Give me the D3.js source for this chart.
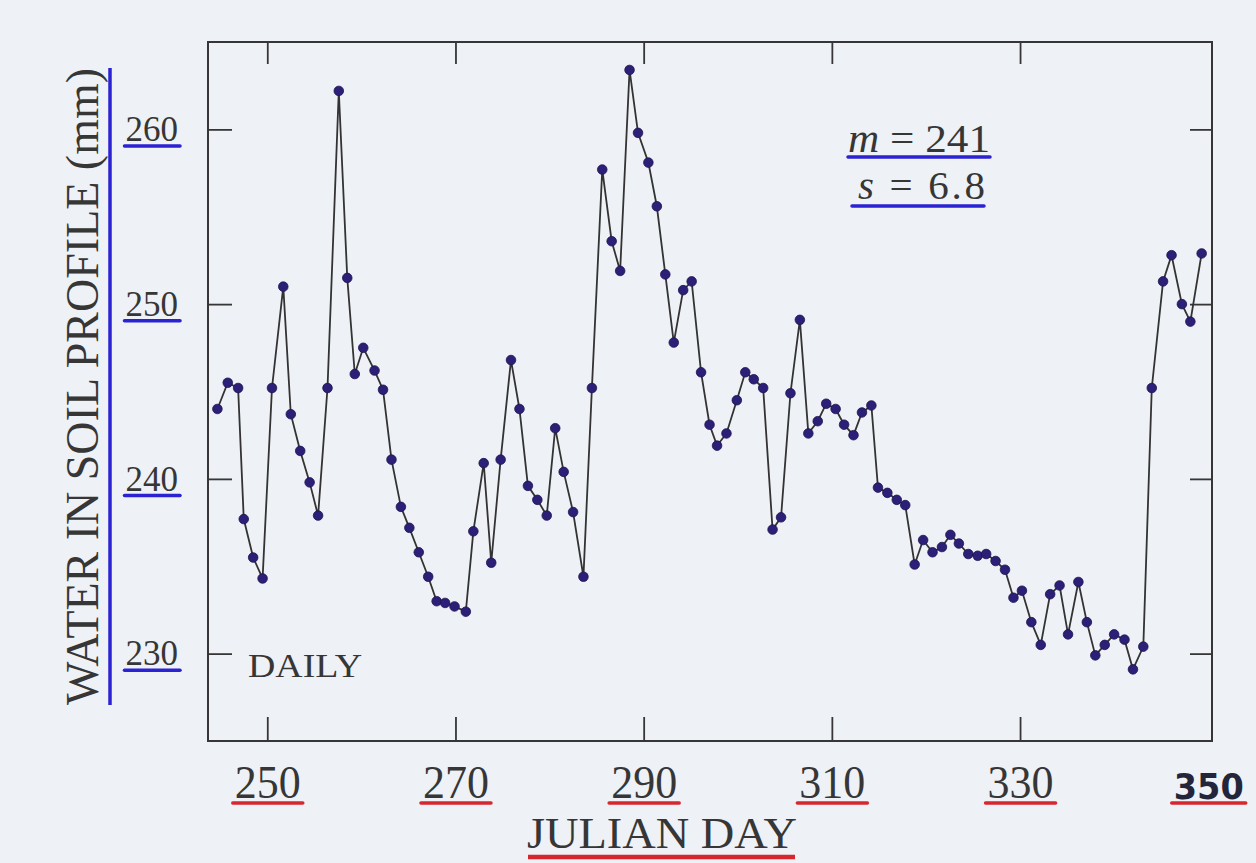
<!DOCTYPE html>
<html>
<head>
<meta charset="utf-8">
<script src="https://cdn.jsdelivr.net/npm/d3@7/dist/d3.min.js"></script>
<style>
  html, body { margin: 0; padding: 0; background: #eef1f5; }
  svg { display: block; }
</style>
</head>
<body>
<svg id="chart" width="1256" height="863"></svg>
<script>
// Julian day of each daily reading
const days = [
  244.7, 245.8, 246.9, 247.5, 248.5, 249.5, 250.5, 251.7, 252.5, 253.5,
  254.5, 255.4, 256.4, 257.6, 258.5, 259.3, 260.2, 261.4, 262.3, 263.2,
  264.2, 265.1, 266.1, 267.1, 268.0, 268.9, 269.9, 271.1, 271.9, 273.0,
  273.8, 274.8, 275.9, 276.8, 277.7, 278.7, 279.7, 280.6, 281.5, 282.5,
  283.6, 284.5, 285.6, 286.6, 287.5, 288.5, 289.4, 290.5, 291.4, 292.3,
  293.2, 294.2, 295.1, 296.1, 297.0, 297.8, 298.8, 299.9, 300.8, 301.7,
  302.7, 303.7, 304.6, 305.6, 306.6, 307.5, 308.5, 309.4, 310.4, 311.3,
  312.3, 313.2, 314.2, 314.9, 315.9, 316.9, 317.8, 318.8, 319.7, 320.7,
  321.7, 322.6, 323.5, 324.5, 325.5, 326.4, 327.4, 328.4, 329.3, 330.2,
  331.2, 332.2, 333.2, 334.2, 335.1, 336.2, 337.1, 338.0, 339.0, 340.0,
  341.1, 342.0, 343.1, 344.0, 345.2, 346.1, 347.2, 348.1, 349.3
];
// Water in soil profile (mm)
const water = [
  244.0, 245.5, 245.2, 237.7, 235.5, 234.3, 245.2, 251.0, 243.7, 241.6,
  239.8, 237.9, 245.2, 262.2, 251.5, 246.0, 247.5, 246.2, 245.1, 241.1,
  238.4, 237.2, 235.8, 234.4, 233.0, 232.9, 232.7, 232.4, 237.0, 240.9,
  235.2, 241.1, 246.8, 244.0, 239.6, 238.8, 237.9, 242.9, 240.4, 238.1,
  234.4, 245.2, 257.7, 253.6, 251.9, 263.4, 259.8, 258.1, 255.6, 251.7,
  247.8, 250.8, 251.3, 246.1, 243.1, 241.9, 242.6, 244.5, 246.1, 245.7,
  245.2, 237.1, 237.8, 244.9, 249.1, 242.6, 243.3, 244.3, 244.0, 243.1,
  242.5, 243.8, 244.2, 239.5, 239.2, 238.8, 238.5, 235.1, 236.5, 235.8,
  236.1, 236.8, 236.3, 235.7, 235.6, 235.7, 235.3, 234.8, 233.2, 233.6,
  231.8, 230.5, 233.4, 233.9, 231.1, 234.1, 231.8, 229.9, 230.5, 231.1,
  230.8, 229.1, 230.4, 245.2, 251.3, 252.8, 250.0, 249.0, 252.9
];
const xTicks = [250, 270, 290, 310, 330, 350];
const yTicks = [230, 240, 250, 260];
const xTitle = "JULIAN DAY";
const yTitle = "WATER IN SOIL PROFILE (mm)";
const noteLabel = "DAILY";
const meanValue = "241";
const sdValue = "6.8";

const svg = d3.select("#chart");
const pL = 208, pR = 1212, pT = 42, pB = 741;
const x = d3.scaleLinear().domain([243.7, 350.4]).range([pL, pR]);
const y = d3.scaleLinear().domain([225, 265]).range([pB, pT]);

const ink = "#363636";
const serif = "'Liberation Serif', 'DejaVu Serif', serif";
const blue = "#2b22d4";
const red = "#d8262e";

// frame
svg.append("rect")
  .attr("x", pL).attr("y", pT)
  .attr("width", pR - pL).attr("height", pB - pT)
  .attr("fill", "none").attr("stroke", ink).attr("stroke-width", 2);

// axes
const gB = svg.append("g").attr("transform", `translate(0,${pB})`)
  .call(d3.axisBottom(x).tickValues(xTicks).tickSize(-24).tickPadding(24));
const gT = svg.append("g").attr("transform", `translate(0,${pT})`)
  .call(d3.axisTop(x).tickValues(xTicks.filter(d => d < 350)).tickSize(-22).tickFormat(""));
const gL = svg.append("g").attr("transform", `translate(${pL},0)`)
  .call(d3.axisLeft(y).tickValues(yTicks).tickSize(-24).tickPadding(30));
const gR = svg.append("g").attr("transform", `translate(${pR},0)`)
  .call(d3.axisRight(y).tickValues(yTicks).tickSize(-22).tickFormat(""));

[gB, gT, gL, gR].forEach(g => {
  g.select(".domain").remove();
  g.selectAll(".tick line").attr("stroke", ink).attr("stroke-width", 1.8);
});
gB.selectAll(".tick").filter(d => d === 350).select("line").remove();

gB.selectAll(".tick text")
  .attr("font-family", serif).attr("font-size", 46).attr("fill", ink)
  .attr("textLength", 66).attr("lengthAdjust", "spacingAndGlyphs");
gB.selectAll(".tick text").filter(d => d === 350)
  .attr("font-family", "'DejaVu Sans', sans-serif").attr("font-weight", "bold")
  .attr("font-size", 36).attr("dy", "0.95em").attr("fill", "#23263a")
  .attr("textLength", 70);
gL.selectAll(".tick text")
  .attr("font-family", serif).attr("font-size", 35).attr("fill", ink);

// red underlines for x tick labels
gB.selectAll(".tick").each(function(d) {
  const t = d3.select(this);
  const bb = t.select("text").node().getBBox();
  t.append("line")
    .attr("x1", bb.x - 2).attr("x2", bb.x + bb.width + 2)
    .attr("y1", 62).attr("y2", 62)
    .attr("stroke", red).attr("stroke-width", 3.5).attr("stroke-linecap", "round");
});
// blue underlines for y tick labels
gL.selectAll(".tick").each(function(d) {
  const t = d3.select(this);
  const bb = t.select("text").node().getBBox();
  t.append("line")
    .attr("x1", bb.x - 1).attr("x2", bb.x + bb.width + 2)
    .attr("y1", 16).attr("y2", 16)
    .attr("stroke", blue).attr("stroke-width", 3.5).attr("stroke-linecap", "round");
});

// titles
svg.append("text")
  .attr("transform", `translate(98,${(68 + 705) / 2}) rotate(-90)`)
  .attr("text-anchor", "middle")
  .attr("font-family", serif).attr("font-size", 47).attr("fill", ink)
  .attr("textLength", 637).attr("lengthAdjust", "spacingAndGlyphs")
  .text(yTitle);
svg.append("line")
  .attr("x1", 110).attr("x2", 110).attr("y1", 68).attr("y2", 705)
  .attr("stroke", blue).attr("stroke-width", 3.5);

svg.append("text")
  .attr("x", 527).attr("y", 848)
  .attr("font-family", serif).attr("font-size", 44).attr("fill", ink)
  .attr("textLength", 270).attr("lengthAdjust", "spacingAndGlyphs")
  .text(xTitle);
svg.append("line")
  .attr("x1", 528).attr("x2", 795).attr("y1", 857).attr("y2", 857)
  .attr("stroke", red).attr("stroke-width", 4.5);

// DAILY
svg.append("text")
  .attr("x", 248).attr("y", 677)
  .attr("font-family", serif).attr("font-size", 33).attr("fill", ink)
  .attr("textLength", 114).attr("lengthAdjust", "spacingAndGlyphs")
  .text(noteLabel);

// statistics
const mText = svg.append("text").attr("x", 848).attr("y", 152)
  .attr("font-family", serif).attr("font-size", 41).attr("fill", ink)
  .attr("textLength", 142).attr("lengthAdjust", "spacingAndGlyphs");
mText.append("tspan").attr("font-style", "italic").text("m");
mText.append("tspan").text(" = " + meanValue);
const sText = svg.append("text").attr("x", 858).attr("y", 199)
  .attr("font-family", serif).attr("font-size", 41).attr("fill", ink)
  .attr("textLength", 127).attr("lengthAdjust", "spacing");
sText.append("tspan").attr("font-style", "italic").text("s");
sText.append("tspan").text(" = " + sdValue);
svg.append("line").attr("x1", 848).attr("x2", 990).attr("y1", 157).attr("y2", 157)
  .attr("stroke", blue).attr("stroke-width", 3.5).attr("stroke-linecap", "round");
svg.append("line").attr("x1", 852).attr("x2", 984).attr("y1", 206).attr("y2", 206)
  .attr("stroke", blue).attr("stroke-width", 3.5).attr("stroke-linecap", "round");

// data
const data = days.map((d, i) => ({ day: d, w: water[i] }));
svg.append("path")
  .datum(data)
  .attr("fill", "none").attr("stroke", "#333").attr("stroke-width", 1.8)
  .attr("d", d3.line().x(d => x(d.day)).y(d => y(d.w)));
svg.append("g").selectAll("circle")
  .data(data).join("circle")
  .attr("cx", d => x(d.day)).attr("cy", d => y(d.w)).attr("r", 4.8)
  .attr("fill", "#2c1f78").attr("stroke", "#1c1450").attr("stroke-width", 0.8);
</script>
</body>
</html>
